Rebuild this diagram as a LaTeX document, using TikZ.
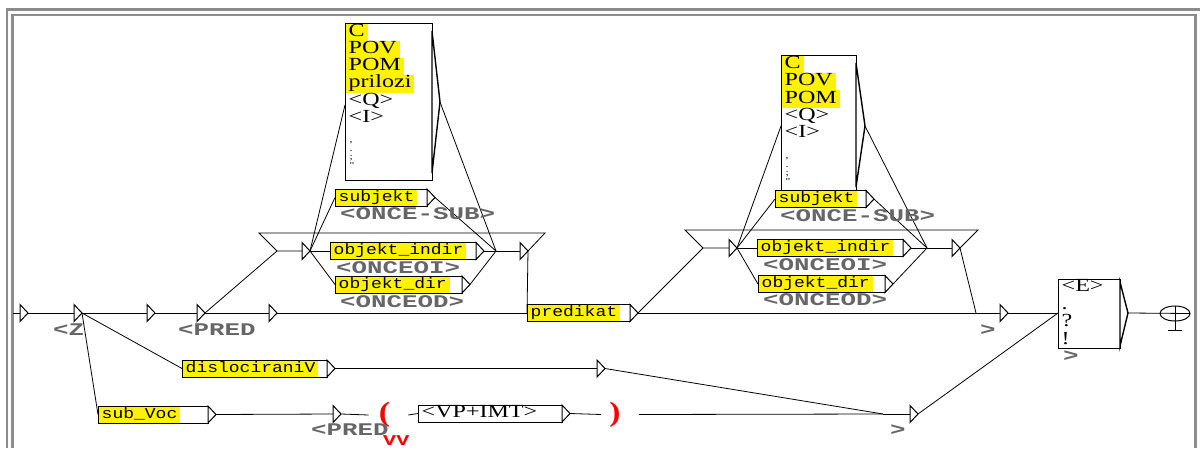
\documentclass[tikz,border=0pt]{standalone}
\usepackage{fontspec}
\newfontfamily\monoF[FakeStretch=1.2]{Liberation Mono}
\newfontfamily\serifF[FakeStretch=1.3]{Liberation Serif}
\newfontfamily\outF[FakeStretch=1.45]{Liberation Mono}
\newfontfamily\parF[FakeStretch=1.2]{Liberation Serif}
\newcommand\utri[3]{%
  \draw[tristyle] (#2,#3-8.5) -- (#2+8,#3) -- (#2,#3+8.5) -- cycle;
  \coordinate (#1) at (#2,#3);
  \coordinate (#1-o) at (#2+8,#3);}
\newcommand\ubox[6]{%
  \node[#5] (#1-t) at (#2+0.5,#3) {#6};
  \draw[boxline] (#2,#3-8.5) rectangle (#4,#3+8.5);
  \draw[tristyle] (#4,#3-8.5) -- (#4+8,#3) -- (#4,#3+8.5) -- cycle;
  \coordinate (#1) at (#2,#3);
  \coordinate (#1-o) at (#4+8,#3);}
\begin{document}
\begin{tikzpicture}[x=1pt,y=-1pt,
  conn/.style={draw=black,line width=0.8pt},
  tristyle/.style={draw=black,fill=white,line width=1pt,line join=miter},
  boxline/.style={draw=black,line width=1pt},
  ytext/.style={fill=yellow,anchor=west,inner xsep=3pt,inner ysep=0pt,minimum height=16pt,text height=10.5pt,text depth=3.5pt,font=\monoF\fontsize{15}{16}\selectfont},
  vtext/.style={anchor=west,inner xsep=3pt,inner ysep=0pt,text height=12pt,text depth=4pt,font=\serifF\fontsize{18.5}{19}\selectfont},
  srow/.style={vtext,fill=yellow,minimum height=17.3pt},
  prow/.style={anchor=west,inner xsep=4pt,inner ysep=0pt,text height=5pt,text depth=1.5pt,font=\serifF\fontsize{9}{9}\selectfont},
  outlab/.style={anchor=west,inner sep=0pt,text=black!60,font=\outF\bfseries\fontsize{17.8}{18}\selectfont},
  frame/.style={draw=black!45,line width=2.2pt},
  paren/.style={inner sep=0pt,text=red,font=\parF\bfseries\fontsize{28}{28}\selectfont}]
\useasboundingbox (0,0) rectangle (1200,448);
% frame
\draw[frame] (7,448) -- (7,9.5) -- (1200,9.5);
\draw[frame] (12.5,448) -- (12.5,15) -- (1195.5,15) -- (1195.5,448);

% top box 1
\node[srow] (b1r1) at (345.5,32) {C};
\node[srow] (b1r2) at (345.5,49.3) {POV};
\node[srow] (b1r3) at (345.5,66.6) {POM};
\node[srow] (b1r4) at (345.5,83.9) {prilozi};
\node[vtext] (b1r5) at (345.5,101.2) {<Q>};
\node[vtext] (b1r6) at (345.5,118.5) {<I>};
\node[prow] (b1p1) at (345.5,141) {,};
\node[prow] (b1p2) at (345.5,149.5) {.};
\node[prow] (b1p3) at (345.5,158) {;};
\node[prow] (b1p4) at (345.5,166.5) {"};
\draw[boxline] (345,23) rectangle (432,180);
\draw[tristyle,line width=1.4pt] (432,31) -- (440,102) -- (432,173) -- cycle;
\coordinate (b1) at (345,105);
\coordinate (b1-o) at (440,102);

% top box 2
\node[srow] (b2r1) at (781.5,64.5) {C};
\node[srow] (b2r2) at (781.5,81.8) {POV};
\node[srow] (b2r3) at (781.5,99.1) {POM};
\node[vtext] (b2r4) at (781.5,116.4) {<Q>};
\node[vtext] (b2r5) at (781.5,133.7) {<I>};
\node[prow] (b2p1) at (781.5,157) {,};
\node[prow] (b2p2) at (781.5,165.5) {.};
\node[prow] (b2p3) at (781.5,174) {;};
\node[prow] (b2p4) at (781.5,182.5) {"};
\draw[boxline] (781,55) rectangle (856,190);
\draw[tristyle,line width=1.4pt] (856,63) -- (865,126) -- (856,187) -- cycle;
\coordinate (b2) at (781,126);
\coordinate (b2-o) at (865,126);

% funnel 1
\coordinate (f1a) at (277,251);
\coordinate (f1b) at (259,233);
\coordinate (f1c) at (545,233);
\coordinate (cv1) at (496,251);
\draw[conn] (f1a) -- (f1b) -- (f1c) -- (528,251);
\utri{f1L}{302}{251}
\utri{f1R}{520}{251}
\ubox{sub1}{335}{197.5}{427}{ytext}{subjekt}
\ubox{oi1}{330}{251}{476}{ytext}{objekt\_indir}
\ubox{od1}{335}{284.5}{462}{ytext}{objekt\_dir}

% funnel 2
\coordinate (f2a) at (703,248);
\coordinate (f2b) at (685,230);
\coordinate (f2c) at (978,230);
\coordinate (cv2) at (927,248);
\draw[conn] (f2a) -- (f2b) -- (f2c) -- (960,248);
\utri{f2L}{729}{248}
\utri{f2R}{952}{248}
\ubox{sub2}{775}{199}{866}{ytext}{subjekt}
\ubox{oi2}{757}{248}{903}{ytext}{objekt\_indir}
\ubox{od2}{758}{284}{885}{ytext}{objekt\_dir}

% main line
\coordinate (start) at (13,313);
\utri{T0}{20}{313}
\utri{T1}{74}{313}
\utri{T2}{147}{313}
\utri{T3}{197}{313}
\utri{T4}{269}{313}
\ubox{pred}{527}{313}{630}{ytext}{predikat}
\coordinate (T5in) at (976,313);
\utri{T5}{1000}{313}

% final box
\node[vtext] (fr1) at (1058.5,287.5) {<E>};
\node[vtext] (fr2) at (1058.5,305) {.};
\node[vtext] (fr3) at (1058.5,322.5) {?};
\node[vtext] (fr4) at (1058.5,340) {!};
\draw[boxline] (1058,279) rectangle (1120,348);
\draw[tristyle,line width=1.4pt] (1120,282) -- (1128,313) -- (1120,346) -- cycle;
\coordinate (fin) at (1058,313);
\coordinate (fin-o) at (1128,313);

% final state
\coordinate (fs) at (1175,313.5);
\draw[line width=1pt] (fs) ellipse [x radius=15, y radius=7.5];
\draw[conn] (fin-o) -- (1190,313.5);
\draw[line width=1pt] (1175,306) -- (1175,330);
\draw[line width=1pt] (1168,330) -- (1182,330);

% lower part
\ubox{disl}{182}{368.5}{327}{ytext}{dislociraniV}
\utri{T6}{597}{368.5}
\ubox{voc}{98}{414.5}{208}{ytext}{sub\_Voc}
\utri{lowP}{333}{414}
\node[paren] (lp) at (384.5,415) {(};
\ubox{vp}{418}{413.5}{562}{vtext}{<VP+IMT>}
\node[paren] (rp) at (615,414.5) {)};
\coordinate (lowTin) at (883,414);
\utri{lowT}{910}{414}

% connectors
\draw[conn] (start) -- (T0);
\draw[conn] (T0-o) -- (T1);
\draw[conn] (T1-o) -- (T2);
\draw[conn] (T2-o) -- (T3);
\draw[conn] (T3-o) -- (T4);
\draw[conn] (T4-o) -- (pred);
\draw[conn] (T3-o) -- (f1a) -- (f1L);
\draw[conn] (f1L-o) -- (sub1);
\draw[conn] (f1L-o) -- (oi1);
\draw[conn] (f1L-o) -- (od1);
\draw[conn] (f1L-o) -- (b1);
\draw[conn] (b1-o) -- (cv1);
\draw[conn] (sub1-o) -- (cv1);
\draw[conn] (oi1-o) -- (cv1);
\draw[conn] (od1-o) -- (cv1);
\draw[conn] (cv1) -- (f1R);
\draw[conn] (f1R-o) -- (pred);
\draw[conn] (pred-o) -- (f2a) -- (f2L);
\draw[conn] (pred-o) -- (T5in);
\draw[conn] (f2L-o) -- (sub2);
\draw[conn] (f2L-o) -- (oi2);
\draw[conn] (f2L-o) -- (od2);
\draw[conn] (f2L-o) -- (b2);
\draw[conn] (b2-o) -- (cv2);
\draw[conn] (sub2-o) -- (cv2);
\draw[conn] (oi2-o) -- (cv2);
\draw[conn] (od2-o) -- (cv2);
\draw[conn] (cv2) -- (f2R);
\draw[conn] (f2R-o) -- (T5in);
\draw[conn] (T5in) -- (T5);
\draw[conn] (T5-o) -- (fin);
\draw[conn] (T1-o) -- (disl);
\draw[conn] (T1-o) -- (voc);
\draw[conn] (disl-o) -- (T6);
\draw[conn] (T6-o) -- (lowTin);
\draw[conn] (voc-o) -- (lowP);
\draw[conn] (lowP-o) -- ([xshift=-10pt]lp.west);
\draw[conn] ([xshift=18pt]lp.east) -- (vp);
\draw[conn] (vp-o) -- ([xshift=-8pt]rp.west);
\draw[conn] ([xshift=18pt]rp.east) -- (lowTin);
\draw[conn] (lowTin) -- (lowT);
\draw[conn] (lowT-o) -- (fin);

% output labels
\node[outlab] (lz) at (53,330) {<Z};
\node[outlab] (lpred1) at (178,330) {<PRED};
\node[outlab] (los1) at (340,214) {<ONCE-SUB>};
\node[outlab] (loi1) at (336,268) {<ONCEOI>};
\node[outlab] (lod1) at (340,302) {<ONCEOD>};
\node[outlab] (los2) at (780,216) {<ONCE-SUB>};
\node[outlab] (loi2) at (763,265) {<ONCEOI>};
\node[outlab] (lod2) at (763,300) {<ONCEOD>};
\node[outlab] (lgt1) at (980,330) {>};
\node[outlab] (lgt2) at (1063,356) {>};
\node[outlab] (lgt3) at (890,430) {>};
\node[outlab] (lpred2) at (311,430) {<PRED};
\node[outlab,text=red,font=\outF\bfseries\fontsize{15}{15}\selectfont] (vv) at (383,441) {VV};
\end{tikzpicture}
\end{document}
